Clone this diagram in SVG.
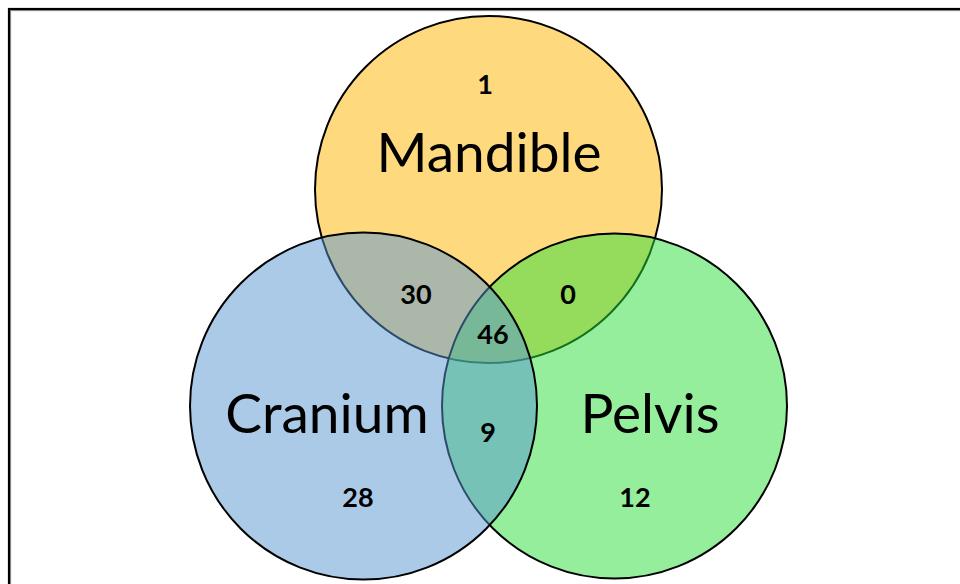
<svg xmlns="http://www.w3.org/2000/svg" width="960" height="584" viewBox="0 0 960 584">
  <style>
    .set { stroke: #000; stroke-width: 2; }
    .name { font-family: Lato, "Open Sans", sans-serif; font-size: 55px; fill: #000; text-anchor: middle; }
    .count { font-family: Lato, "Open Sans", sans-serif; font-size: 27px; font-weight: bold; fill: #000; text-anchor: middle; }
  </style>
  <rect width="960" height="584" fill="#fff"/>
  <!-- frame, open to the right and bottom -->
  <rect x="9" y="9" width="980" height="600" fill="none" stroke="#000" stroke-width="2.2"/>
  <rect x="10.6" y="10.6" width="980" height="600" fill="none" stroke="#7a7a7a" stroke-width="1"/>

  <g id="mandible">
    <circle class="set" cx="488.5" cy="189.5" r="173.5" fill="#ffd97e"/>
  </g>
  <g id="pelvis">
    <circle class="set" cx="614.5" cy="406" r="172.5" fill="#2bdd39" fill-opacity="0.5"/>
  </g>
  <g id="cranium">
    <circle class="set" cx="363.5" cy="406" r="173.5" fill="#5795d1" fill-opacity="0.5"/>
  </g>

  <g id="labels">
    <text class="name" x="489" y="172">Mandible</text>
    <text class="name" x="327" y="433">Cranium</text>
    <text class="name" x="650" y="433">Pelvis</text>
    <text class="count" x="485" y="94">1</text>
    <text class="count" x="416" y="304">30</text>
    <text class="count" x="568" y="304">0</text>
    <text class="count" x="493" y="344">46</text>
    <text class="count" x="488" y="442">9</text>
    <text class="count" x="358" y="507">28</text>
    <text class="count" x="635" y="507">12</text>
  </g>
</svg>
